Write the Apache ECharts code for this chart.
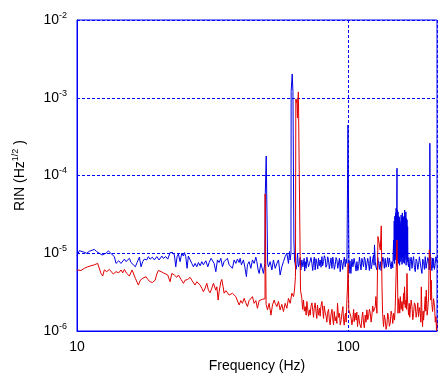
<!DOCTYPE html>
<html>
<head>
<meta charset="utf-8">
<script src="https://cdn.jsdelivr.net/npm/echarts@6/dist/echarts.min.js"></script>
<style>
html,body{margin:0;padding:0;background:#fff;}
#chart{width:441px;height:378px;}
</style>
</head>
<body>
<div id="chart"></div>
<script>
// [frequency (Hz), RIN in units of 1e-6 Hz^-1/2]
const bluePoints = [
[10.0,9.2],[10.2,10.8],[10.34,10.2],[10.64,10.3],[10.86,10.0],[11.1,10.6],[11.26,10.3],[11.58,11.2],[11.82,10.5],[12.09,10.0],[12.37,9.5],[12.54,9.05],[12.79,10.0],[13.05,10.7],[13.32,10.0],[13.46,10.2],[13.73,9.05],[13.93,7.4],[14.25,8.0],[14.53,7.4],[14.95,8.4],[15.16,7.8],[15.6,8.6],[15.82,7.6],[16.05,8.0],[16.41,6.7],[16.65,7.6],[16.98,8.9],[17.22,6.7],[17.47,7.8],[17.71,8.4],
[18.08,8.2],[18.33,9.05],[18.6,8.4],[18.96,8.9],[19.29,8.2],[19.69,9.05],[20.07,8.2],[20.54,9.2],[20.82,8.6],[21.25,9.05],[21.61,8.4],[22.04,10.2],[22.23,10.8],[22.55,10.2],[22.86,9.5],[23.13,6.7],[23.39,9.05],[23.65,9.8],[23.99,7.8],[24.34,10.0],[24.68,9.2],[24.89,10.2],[25.18,9.05],[25.46,6.4],[25.74,9.2],[26.12,9.5],[26.5,7.4],[26.87,6.7],[27.25,7.4],[27.65,6.7],[28.03,7.6],[28.44,6.9],[28.85,7.8],[29.25,7.1],[29.85,8.0],[30.36,6.7],[30.7,7.6],[31.22,8.6],[31.67,8.9],
[32.03,7.4],[32.5,5.8],[32.95,8.2],[33.42,7.6],[33.91,8.6],[34.38,6.7],[34.87,7.8],[35.38,8.2],[35.86,8.6],[36.39,7.1],[36.92,7.4],[37.42,6.4],[37.96,8.2],[38.51,7.4],[39.04,8.4],[39.61,7.6],[39.95,8.6],[40.39,7.1],[41.08,8.2],[41.56,6.7],[42.14,5.0],[42.5,7.1],[43.12,7.8],[43.75,6.4],[44.35,8.2],[44.99,7.4],[45.65,8.9],[46.04,7.8],[46.55,6.1],[46.95,5.5],[47.63,7.4],[48.29,7.8],[48.7,5.5],[49.27,7.4],
[49.4,7.0],[49.45,58],[49.8,58],[49.85,178],[50.35,178],[50.45,7.5],
[50.8,6.7],[51.55,7.8],[52.3,6.1],[53.0,8.2],[53.8,6.4],[54.58,7.4],[55.33,8.2],[56.1,5.25],[56.9,6.7],[57.7,7.8],[58.55,9.05],[59.4,10],[60.2,7.4],[60.75,10.5],[61.1,8.2],[61.5,10],
[61.6,1200],[62.1,1200],[62.15,2020],[62.5,2020],[62.55,1200],[63.0,1200],[63.05,14.8],[63.4,8.2],
[63.7,8.2],[64.2,6.2],[64.67,7.2],[65.0,10],[65.55,6.7],[66.1,7.4],[66.5,8.8],[66.9,6.1],[67.45,8.2],[68.06,6.7],[68.8,8.6],[69.1,5.9],[69.4,7.8],[69.98,6.4],[70.4,8.9],[70.76,8.2],[71.37,6.7],[71.98,7.4],
[72.42,7.1],[72.9,8.8],[73.47,7.4],[74.0,6.0],[74.47,7.8],[75.0,8.9],[75.54,6.1],[76.1,8.5],[76.65,7.4],[77.2,6.3],[77.7,8.6],[78.2,6.9],[78.8,8.2],[79.4,6.6],[80.0,9.05],[80.5,6.9],[81.08,7.8],[81.7,9.3],[82.25,8.6],[82.8,6.6],[83.45,7.1],[84.0,9.0],[84.6,8.2],[85.2,6.3],[85.8,7.4],[86.4,8.7],[87.1,6.4],[87.7,8.9],[88.28,7.8],[88.9,6.2],[89.54,7.1],[90.2,8.8],[90.85,8.2],[91.5,6.4],[92.1,6.7],[92.8,8.6],[93.43,5.8],[94.1,8.2],[94.8,7.4],[95.4,6.2],[96.1,7.8],[96.8,8.9],[97.5,6.7],[98.2,8.4],[98.9,7.4],
[99.7,7.4],[99.8,447],[100.6,447],[100.7,5.5],[101.5,8.0],[102.3,5.5],[103.2,8.4],[104.1,6.7],[105.1,8.6],
[106.1,7.1],[106.9,5.9],[107.7,7.8],[108.5,6.0],[109.2,6.7],[110.0,8.9],[110.7,7.4],[111.5,6.1],[112.3,8.6],[113.1,7.6],[113.9,6.7],[114.7,8.9],[115.5,8.2],[116.3,6.1],[117.2,6.4],[118.0,8.6],[118.8,7.4],[119.7,6.0],[120.6,9.05],[121.5,6.3],[122.3,7.1],[123.1,8.4],[124.0,9.5],[124.5,7.0],[125.0,12.8],[125.8,7.8],[126.5,6.7],[127.6,6.1],[128.5,8.8],[129.4,7.4],[130.3,6.2],[131.3,7.8],[132.2,6.0],[133.2,7.1],[134.1,8.9],[135.0,8.2],[135.9,6.4],[136.9,8.6],[137.9,6.6],[138.9,7.4],[139.8,8.8],[140.8,6.7],[141.8,8.7],[142.9,8.2],[143.9,6.3],[145.0,7.8],[146.0,6.5],
[147.0,14.8],[147.4,8.0],[147.8,26],[148.2,7.4],[148.6,30],[149.0,9.0],[149.4,33],[149.8,8.2],[150.2,38],[150.6,7.0],[151.0,30],[151.3,124],[151.5,8.0],[151.9,36],[152.3,9.5],[152.7,34],[153.1,7.4],[153.5,30],[153.9,8.6],[154.3,29],[154.7,7.0],[155.1,26],[155.5,9.0],[155.9,24],[156.3,7.8],[156.7,31],[157.1,8.4],[157.5,28],[157.9,7.2],[158.3,33],[158.7,9.0],[159.1,30],[159.5,7.6],[159.9,29],[160.3,8.8],[160.7,27],[161.1,7.4],[161.5,36],[161.9,8.2],[162.3,30],[162.7,9.5],[163.1,34],[163.5,7.0],[163.9,28],[164.3,8.6],[164.7,27],[165.1,7.8],[165.6,22],[166.1,7.4],
[166.9,6.7],[167.4,8.8],[167.9,7.4],[168.6,6.0],[169.4,7.8],[170.6,8.9],[171.9,6.4],[173.0,8.0],[174.2,9.05],[175.4,6.6],[176.7,5.8],[178.0,8.4],[179.3,7.8],[180.5,6.2],[181.7,7.1],[183.0,9.0],[184.4,8.6],[185.7,6.3],[187.0,5.5],[188.3,8.4],[189.6,7.8],[191.0,6.2],[192.3,9.05],[193.7,6.4],[195.1,6.7],[196.5,8.8],[197.8,8.2],[198.8,6.1],[199.8,7.4],
[200.0,260],[200.7,260],[200.9,7.1],[201.6,8.9],[202.4,7.1],[203.5,6.0],[204.6,8.6],[205.5,6.5],[206.4,8.6],[207.9,6.2],[209.4,7.4],[210.5,9.0],[211.7,8.2],[212.5,7.8]
];

const redPoints = [
[10.0,6.1],[10.34,6.0],[10.64,6.4],[10.95,6.7],[11.26,6.9],[11.58,7.1],[11.92,7.4],[12.09,7.2],[12.26,5.5],[12.44,5.1],[12.61,6.1],[12.87,5.8],[13.16,6.2],[13.33,6.1],[13.61,5.4],[13.93,5.8],[14.25,5.6],[14.53,6.1],[14.74,5.6],[14.95,6.2],[15.25,5.5],[15.6,5.1],[15.96,6.1],[16.41,4.77],[16.65,4.6],[16.84,3.9],[17.12,4.5],[17.47,4.77],[17.71,4.6],[17.98,5.0],
[18.23,4.6],[18.6,4.3],[18.96,4.2],[19.41,4.5],[19.69,5.4],[19.95,6.0],[20.42,5.8],[20.82,5.6],[21.12,5.4],[21.61,5.25],[22.04,4.3],[22.36,5.5],[22.86,5.25],[23.33,4.9],[23.65,5.25],[24.2,4.6],[24.68,4.1],[25.03,4.5],[25.61,4.6],[26.12,4.9],[26.5,4.5],[26.87,4.45],[27.25,3.9],[27.65,4.3],[28.03,4.1],[28.44,3.9],[28.85,3.55],[29.25,3.2],[29.67,3.55],[30.1,4.1],[30.52,3.35],[30.96,3.1],[31.4,3.55],[31.84,4.1],[32.3,3.9],
[32.5,3.35],[32.78,3.7],[33.14,2.5],[33.42,3.2],[33.91,4.3],[34.2,4.6],[34.57,3.7],[34.87,3.06],[35.38,3.3],[35.86,3.2],[36.39,2.9],[36.92,2.77],[37.42,3.06],[37.96,3.2],[38.51,2.77],[39.04,2.63],[39.61,2.16],[40.18,2.46],[40.74,2.27],[41.33,2.63],[41.94,2.3],[42.5,2.06],[43.12,2.46],[43.75,2.4],[44.35,2.77],[44.99,2.27],[45.65,2.46],[46.27,1.96],[46.95,2.46],[47.63,2.4],[48.29,2.56],[48.98,2.46],[49.35,2.6],
[49.4,58],[49.75,58],[49.8,2.2],
[50.4,1.87],[51.1,2.27],[51.9,1.6],[52.57,2.16],[53.33,2.5],[53.8,2.27],[54.58,2.06],[55.33,2.4],[56.1,1.87],[56.9,2.2],[57.7,1.78],[58.55,2.27],[59.4,1.96],[60.2,2.63],[61.1,2.27],[61.97,3.06],[62.87,2.77],[63.36,3.35],[63.9,5.0],
[64.1,955],[64.4,870],[64.7,950],[65.0,550],[65.2,900],[65.5,1190],[66.5,1190],[66.7,3.35],
[67.45,2.63],[67.9,1.9],[68.4,2.5],[68.9,1.8],[69.4,2.06],[69.98,1.6],[70.4,2.4],[70.76,2.06],[71.4,1.55],[71.98,1.87],[72.4,1.6],[72.85,2.06],[73.5,2.3],[74.09,1.78],[74.5,1.5],[74.9,1.96],[75.5,2.3],[76.2,1.69],[76.6,1.45],[77.04,2.16],[77.7,1.6],[78.4,1.96],[78.8,1.55],[79.3,2.06],[80.0,2.4],[80.65,1.78],[81.1,1.45],[81.55,2.1],[82.3,1.7],[82.96,1.53],[83.4,1.3],[83.88,1.69],[84.6,1.9],[85.3,1.32],[85.8,1.2],[86.35,1.6],[87.1,1.9],[87.8,1.38],[88.3,1.2],[88.8,1.78],[89.5,1.35],[90.3,1.53],[90.8,1.25],[91.3,2.27],[92.1,1.5],[92.9,1.69],[93.4,1.2],[94.0,1.32],[94.8,1.7],[95.6,2.06],[96.1,1.4],[96.65,1.19],[97.2,1.5],[97.7,1.69],[98.3,1.3],[98.9,2.5],
[99.4,3.7],[99.9,7.4],[100.2,7.4],[100.5,1.87],[101.1,1.87],[102.3,1.53],[103.2,1.2],[104.1,1.46],[104.7,1.9],[105.2,1.32],[106.1,1.7],[107.0,1.38],[107.6,1.75],[108.2,1.14],[109.2,1.6],[110.1,1.26],
[110.7,1.32],[111.5,1.1],[112.3,1.46],[113.1,1.75],[113.9,1.26],[114.7,1.1],[115.5,1.6],[116.3,1.3],[117.2,1.87],[118.0,1.4],[118.8,1.53],[119.7,1.9],[120.6,1.69],[121.5,1.3],[122.3,1.6],[123.1,2.1],[124.0,1.78],[125.8,2.06],[126.5,2.77],[127.6,1.69],
[128.7,16.4],[129.4,14.8],[130.1,15.6],[131.3,11],[132.4,22.5],[133.2,3.7],[133.9,1.69],[135.0,1.14],[135.9,1.6],[136.9,1.38],[137.9,1.05],[138.9,1.19],[139.8,1.7],[140.8,1.53],[141.8,1.15],[142.9,1.26],[143.9,1.8],[145.0,1.6],[146.0,1.25],[147.0,1.69],[148.2,1.38],[149.1,2.06],[150.0,2.06],
[151.3,14.8],[152.6,1.69],[153.4,2.6],[154.2,2.27],[154.9,1.7],[155.6,2.77],[156.7,1.9],[157.8,2.4],[158.9,1.8],[160.0,3.06],[160.6,2.2],[161.3,3.7],[162.3,2.0],[163.3,2.5],[164.0,1.9],[164.7,5.5],[165.4,2.5],[166.1,2.06],[167.0,1.6],[167.9,2.27],[168.6,1.5],[169.4,1.87],[170.6,2.5],[171.9,2.06],[173.0,1.4],[174.2,1.69],[175.4,2.3],[176.7,2.16],[178.0,1.5],[179.3,1.78],[180.5,2.3],[181.7,1.53],[183.0,2.0],[184.4,1.69],[185.2,1.3],[186.0,3.7],[187.0,1.6],[188.0,1.14],[188.8,1.8],[189.6,1.38],[191.0,1.9],[192.3,2.77],[193.1,1.8],[194.0,3.35],[195.4,1.6],[196.8,2.06],[197.9,2.8],
[199.0,11],[200.7,9.05],[201.5,2.5],[202.4,4.5],[203.5,2.2],[204.7,1.78],[206.4,2.6],[208.2,2.06],[209.4,1.3],[210.6,1.53],[211.7,1.0],[212.5,1.3]
];

const xTicks = [10, 100];
const yTicks = [-6, -5, -4, -3, -2]; // exponents of 10

const UNIT = 1e-6;
const blueData = bluePoints.map(p => [p[0], p[1] * UNIT]);
const redData = redPoints.map(p => [p[0], p[1] * UNIT]);

const AXIS_BLUE = '#0000ff';
const FONT = '"Liberation Sans", Arial, sans-serif';

const chart = echarts.init(document.getElementById('chart'), null, {renderer: 'canvas'});
chart.setOption({
  animation: false,
  backgroundColor: '#ffffff',
  grid: {left: 77, top: 20, right: 4, bottom: 47, show: true, borderColor: AXIS_BLUE, borderWidth: 1, backgroundColor: 'transparent'},
  xAxis: {
    type: 'log', logBase: 10, min: 10, max: 212.5,
    name: 'Frequency (Hz)', nameLocation: 'middle', nameGap: 27,
    nameTextStyle: {fontFamily: FONT, fontSize: 14, color: '#000'},
    axisLine: {show: true, lineStyle: {color: AXIS_BLUE, width: 1}},
    axisTick: {show: false},
    minorTick: {show: false},
    axisLabel: {
      fontFamily: FONT, fontSize: 14, color: '#000', margin: 9,
      formatter: function (v) {
        return xTicks.some(t => Math.abs(t - v) < 1e-6) ? String(Math.round(v)) : '';
      }
    },
    splitLine: {show: true, lineStyle: {color: AXIS_BLUE, type: [3, 2], width: 1}}
  },
  yAxis: {
    type: 'log', logBase: 10, min: 1e-6, max: 1e-2,
    name: 'RIN (Hz{sup|1/2} )', nameLocation: 'middle', nameGap: 48, nameRotate: 90,
    nameTextStyle: {fontFamily: FONT, fontSize: 14, color: '#000', lineHeight: 18,
      rich: {sup: {fontFamily: FONT, fontSize: 9, lineHeight: 9, verticalAlign: 'top', color: '#000'}}},
    axisLine: {show: true, lineStyle: {color: AXIS_BLUE, width: 1}},
    axisTick: {show: false},
    axisLabel: {
      fontFamily: FONT, fontSize: 14, color: '#000', margin: 10, lineHeight: 18,
      formatter: function (v) {
        const e = Math.round(Math.log10(v));
        return yTicks.indexOf(e) >= 0 ? '10{sup|' + e + '}' : '';
      },
      rich: {sup: {fontFamily: FONT, fontSize: 9, lineHeight: 9, verticalAlign: 'top', color: '#000'}}
    },
    splitLine: {show: true, lineStyle: {color: AXIS_BLUE, type: [3, 2], width: 1}}
  },
  series: [
    {type: 'line', data: blueData, symbol: 'none', lineStyle: {color: '#0000e6', width: 1}, z: 2},
    {type: 'line', data: redData, symbol: 'none', lineStyle: {color: '#e00000', width: 1}, z: 3}
  ]
});
</script>
</body>
</html>
